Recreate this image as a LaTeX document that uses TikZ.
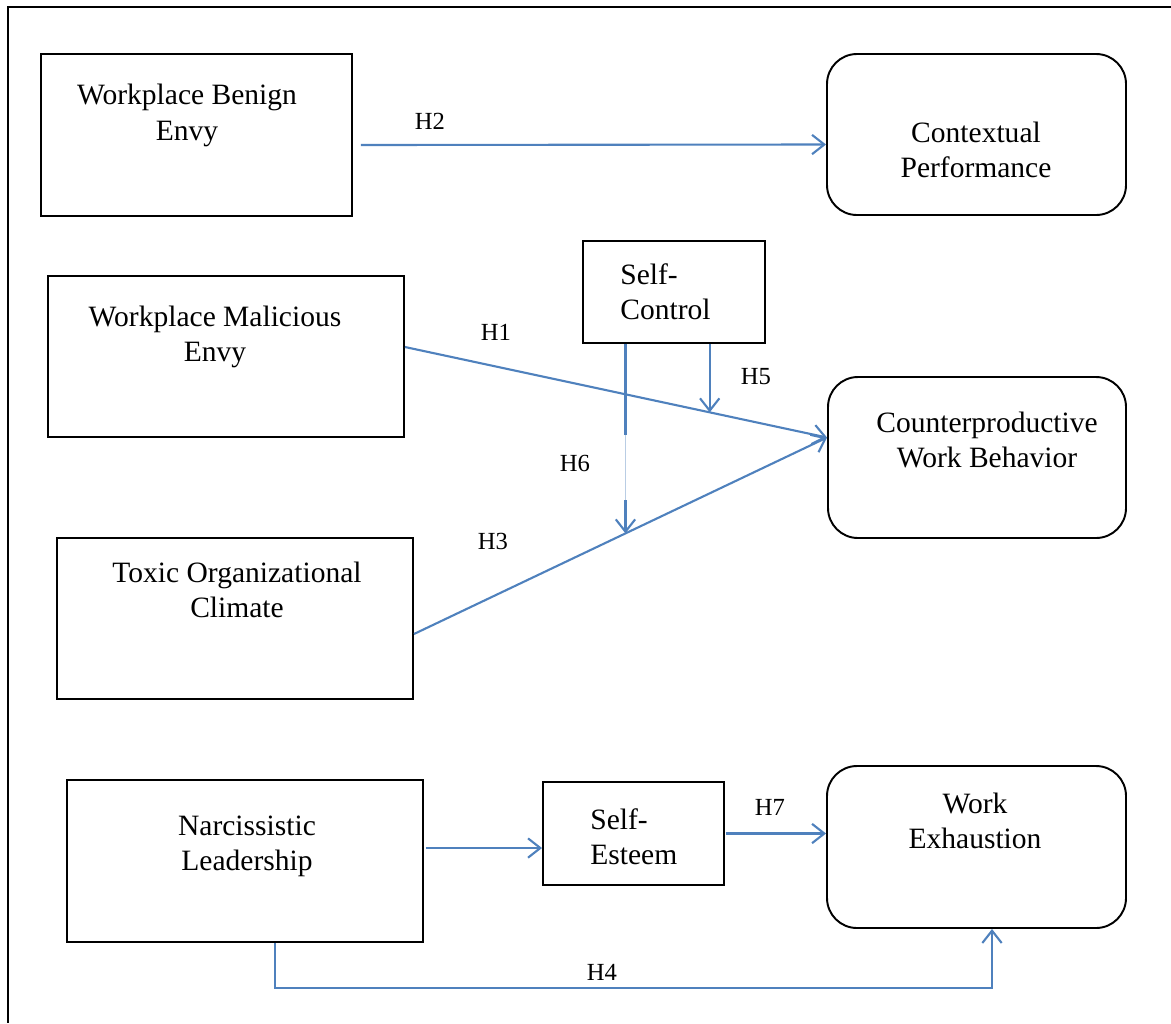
\documentclass[tikz,border=0pt]{standalone}
\usepackage{fontspec}
\setmainfont{Liberation Serif}
\usetikzlibrary{arrows.meta}
\definecolor{hypblue}{RGB}{79,129,189}

\begin{document}
\begin{tikzpicture}[
    box/.style={draw, line width=1.1pt, inner sep=0pt},
    rbox/.style={box, rounded corners=0.6cm},
    txt/.style={font=\fontsize{16.8}{20}\selectfont, align=center, inner sep=0pt},
    hyp/.style={font=\fontsize{14}{16}\selectfont, inner sep=0pt},
    arr/.style={draw=hypblue, line width=1.2pt, -{Straight Barb[length=7pt,width=11pt]}}
  ]
    \useasboundingbox (0,0) rectangle (23.42,-20.46);
    \draw[line width=1.2pt] (23.42,-0.14) -- (0.16,-0.14) -- (0.16,-20.46);

    \node[box, minimum width=6.22cm, minimum height=3.24cm] (benign) at (3.93,-2.70) {};
    \node[rbox, minimum width=5.98cm, minimum height=3.22cm] (context) at (19.53,-2.69) {};
    \node[box, minimum width=3.64cm, minimum height=2.04cm] (selfctrl) at (13.48,-5.84) {};
    \node[box, minimum width=7.12cm, minimum height=3.22cm] (malicious) at (4.52,-7.13) {};
    \node[rbox, minimum width=5.96cm, minimum height=3.22cm] (cwb) at (19.54,-9.15) {};
    \node[box, minimum width=7.12cm, minimum height=3.22cm] (toxic) at (4.70,-12.37) {};
    \node[box, minimum width=7.12cm, minimum height=3.24cm] (narc) at (4.90,-17.22) {};
    \node[box, minimum width=3.62cm, minimum height=2.06cm] (esteem) at (12.67,-16.67) {};
    \node[rbox, minimum width=5.98cm, minimum height=3.24cm] (exhaust) at (19.53,-16.94) {};

    \node[txt] (benign-t) at (3.74,-2.31) {Workplace Benign\\Envy};
    \node[txt] (context-t) at (19.52,-3.00) {Contextual\\Performance};
    \node[txt, align=left, anchor=west] (selfctrl-t) at (12.40,-5.83) {Self-\\Control};
    \node[txt] (malicious-t) at (4.30,-6.74) {Workplace Malicious\\Envy};
    \node[txt] (cwb-t) at (19.74,-8.80) {Counterproductive\\Work Behavior};
    \node[txt] (toxic-t) at (4.74,-11.79) {Toxic Organizational\\Climate};
    \node[txt] (narc-t) at (4.94,-16.92) {Narcissistic\\Leadership};
    \node[txt, align=left, anchor=west] (esteem-t) at (11.80,-16.73) {Self-\\Esteem};
    \node[txt] (exhaust-t) at (19.50,-16.42) {Work\\Exhaustion};

    \node[hyp] (h2) at (8.60,-2.42) {H2};
    \node[hyp] (h1) at (9.92,-6.64) {H1};
    \node[hyp] (h5) at (15.12,-7.54) {H5};
    \node[hyp] (h6) at (11.50,-9.26) {H6};
    \node[hyp] (h3) at (9.86,-10.82) {H3};
    \node[hyp] (h7) at (15.40,-16.14) {H7};
    \node[hyp] (h4) at (12.04,-19.44) {H4};

    \coordinate (cwbin) at ([yshift=0.40cm]cwb.west);
    \coordinate (h1out) at ([yshift=0.19cm]malicious.east);
    \coordinate (h3out) at ([yshift=-0.31cm]toxic.east);
    \path (h1out) -- (cwbin) coordinate[pos=0.722] (h5end);
    \path (h3out) -- (cwbin) coordinate[pos=0.512] (h6end);
    \coordinate (nlout) at ([shift={(0.04,0.26)}]narc.east);
    \coordinate (seout) at ([xshift=0.02cm]esteem.east);

    \draw[arr] ([shift={(0.16,-0.2)}]benign.east) -- ([yshift=-0.2cm]context.west);
    \draw[arr] (h1out) -- (cwbin);
    \draw[arr] (h3out) -- (cwbin);
    \draw[arr] (h5end |- selfctrl.south) -- (h5end);
    \draw[arr] (h6end |- selfctrl.south) -- (h6end);
    % faded stretch of the H6 line
    \draw[white, line width=2pt] ([yshift=1.96cm]h6end) -- ([yshift=0.66cm]h6end);
    \draw[hypblue!40, line width=0.5pt] ([yshift=1.96cm]h6end) -- ([yshift=0.66cm]h6end);
    \draw[arr] (nlout) -- (nlout -| esteem.west);
    \draw[arr] (seout) -- (seout -| exhaust.west);
    \draw[arr] ([xshift=0.6cm]narc.south) -- ++(0,-0.9) -| ([xshift=0.31cm]exhaust.south);

\end{tikzpicture}
\end{document}
